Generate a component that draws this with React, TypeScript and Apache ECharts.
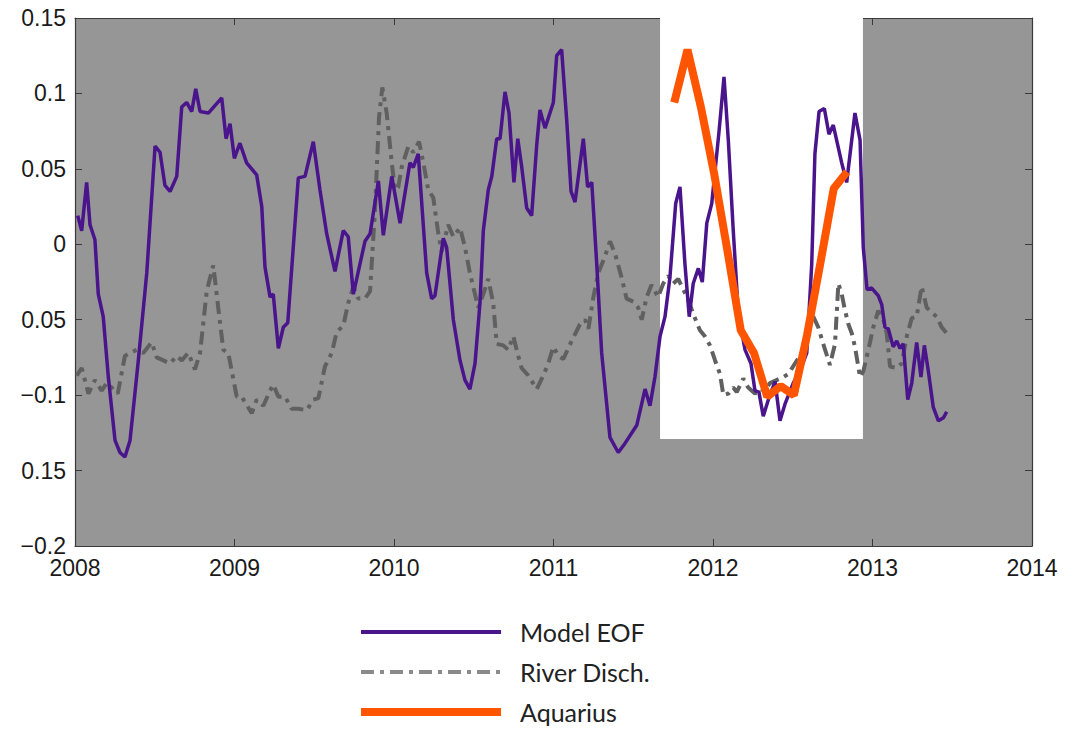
import React, { useEffect, useRef } from "react";
import * as echarts from "echarts";

// Model EOF: [decimal year, value]
const modelEOF: [number, number][] = [
  [2008.017, 0.019], [2008.042, 0.009], [2008.073, 0.041], [2008.094, 0.013], [2008.125, 0.003],
  [2008.146, -0.033], [2008.177, -0.048], [2008.209, -0.088], [2008.251, -0.13], [2008.282, -0.138],
  [2008.313, -0.141], [2008.345, -0.13], [2008.397, -0.077], [2008.45, -0.019], [2008.502, 0.065],
  [2008.533, 0.061], [2008.564, 0.039], [2008.596, 0.035], [2008.638, 0.045], [2008.669, 0.091],
  [2008.7, 0.094], [2008.732, 0.088], [2008.757, 0.103], [2008.784, 0.088], [2008.836, 0.087],
  [2008.92, 0.097], [2008.947, 0.07], [2008.972, 0.08], [2008.999, 0.057], [2009.034, 0.067],
  [2009.076, 0.054], [2009.139, 0.046], [2009.171, 0.025], [2009.191, -0.015], [2009.223, -0.035],
  [2009.243, -0.033], [2009.275, -0.069], [2009.306, -0.055], [2009.334, -0.052], [2009.4, 0.044],
  [2009.442, 0.045], [2009.494, 0.068], [2009.536, 0.036], [2009.578, 0.007], [2009.63, -0.018],
  [2009.682, 0.009], [2009.713, 0.005], [2009.745, -0.033], [2009.818, 0.002], [2009.85, 0.007],
  [2009.902, 0.042], [2009.933, 0.006], [2009.986, 0.045], [2010.038, 0.014], [2010.1, 0.054],
  [2010.121, 0.051], [2010.152, 0.06], [2010.205, -0.019], [2010.236, -0.036], [2010.257, -0.034],
  [2010.309, 0.004], [2010.33, -0.002], [2010.372, -0.05], [2010.414, -0.077], [2010.445, -0.09],
  [2010.476, -0.096], [2010.508, -0.079], [2010.539, -0.039], [2010.56, 0.009], [2010.591, 0.036],
  [2010.613, 0.045], [2010.644, 0.07], [2010.665, 0.07], [2010.696, 0.101], [2010.721, 0.087],
  [2010.752, 0.041], [2010.776, 0.07], [2010.801, 0.051], [2010.832, 0.024], [2010.863, 0.019],
  [2010.895, 0.066], [2010.915, 0.089], [2010.947, 0.077], [2010.999, 0.094], [2011.02, 0.125],
  [2011.051, 0.129], [2011.083, 0.082], [2011.11, 0.035], [2011.135, 0.028], [2011.187, 0.07],
  [2011.214, 0.038], [2011.24, 0.041], [2011.271, -0.013], [2011.302, -0.072], [2011.354, -0.128],
  [2011.406, -0.138], [2011.448, -0.132], [2011.522, -0.12], [2011.574, -0.096], [2011.605, -0.107],
  [2011.636, -0.088], [2011.668, -0.061], [2011.699, -0.048], [2011.73, -0.022], [2011.766, 0.027],
  [2011.793, 0.038], [2011.824, -0.013], [2011.851, -0.048], [2011.876, -0.026], [2011.908, -0.016],
  [2011.933, -0.025], [2011.961, 0.014], [2011.992, 0.027], [2012.038, 0.075], [2012.069, 0.111],
  [2012.096, 0.069], [2012.127, 0.009], [2012.159, -0.046], [2012.201, -0.07], [2012.238, -0.079],
  [2012.263, -0.097], [2012.288, -0.098], [2012.315, -0.114], [2012.347, -0.103], [2012.389, -0.091],
  [2012.42, -0.117], [2012.451, -0.106], [2012.503, -0.092], [2012.545, -0.084], [2012.588, -0.072],
  [2012.619, -0.013], [2012.639, 0.06], [2012.665, 0.088], [2012.698, 0.09], [2012.727, 0.073],
  [2012.754, 0.079], [2012.807, 0.054], [2012.838, 0.041], [2012.89, 0.087], [2012.922, 0.069],
  [2012.942, -0.002], [2012.966, -0.03], [2012.995, -0.029], [2013.036, -0.034], [2013.058, -0.04],
  [2013.078, -0.055], [2013.099, -0.056], [2013.13, -0.068], [2013.152, -0.064], [2013.172, -0.069],
  [2013.193, -0.066], [2013.221, -0.103], [2013.246, -0.092], [2013.277, -0.065], [2013.304, -0.088],
  [2013.325, -0.067], [2013.35, -0.084], [2013.381, -0.108], [2013.413, -0.117], [2013.445, -0.115],
  [2013.465, -0.111],
];

// River discharge: [decimal year, value]
const riverDisch: [number, number][] = [
  [2008.011, -0.087], [2008.042, -0.082], [2008.084, -0.099], [2008.125, -0.09], [2008.167, -0.097],
  [2008.199, -0.092], [2008.23, -0.095], [2008.268, -0.099], [2008.313, -0.074], [2008.345, -0.072],
  [2008.387, -0.07], [2008.428, -0.072], [2008.481, -0.065], [2008.512, -0.075], [2008.554, -0.077],
  [2008.596, -0.079], [2008.638, -0.074], [2008.669, -0.077], [2008.71, -0.072], [2008.752, -0.083],
  [2008.784, -0.072], [2008.826, -0.031], [2008.867, -0.014], [2008.898, -0.042], [2008.93, -0.07],
  [2008.961, -0.072], [2009.014, -0.101], [2009.045, -0.101], [2009.108, -0.112], [2009.139, -0.103],
  [2009.181, -0.107], [2009.223, -0.097], [2009.243, -0.093], [2009.275, -0.101], [2009.317, -0.101],
  [2009.358, -0.109], [2009.4, -0.109], [2009.453, -0.11], [2009.494, -0.103], [2009.526, -0.102],
  [2009.567, -0.081], [2009.61, -0.072], [2009.641, -0.058], [2009.682, -0.054], [2009.713, -0.039],
  [2009.745, -0.028], [2009.776, -0.036], [2009.818, -0.036], [2009.85, -0.031], [2009.881, 0.023],
  [2009.906, 0.084], [2009.927, 0.104], [2009.954, 0.087], [2009.986, 0.054], [2010.006, 0.036],
  [2010.027, 0.038], [2010.048, 0.051], [2010.09, 0.065], [2010.121, 0.061], [2010.157, 0.068],
  [2010.184, 0.054], [2010.215, 0.036], [2010.246, 0.031], [2010.278, 0.007], [2010.299, -0.005],
  [2010.34, 0.013], [2010.372, 0.005], [2010.414, 0.011], [2010.445, -0.002], [2010.476, -0.019],
  [2010.528, -0.042], [2010.56, -0.033], [2010.591, -0.023], [2010.622, -0.039], [2010.644, -0.066],
  [2010.685, -0.067], [2010.716, -0.07], [2010.748, -0.061], [2010.779, -0.074], [2010.8, -0.082],
  [2010.842, -0.087], [2010.895, -0.096], [2010.936, -0.087], [2010.967, -0.079], [2010.999, -0.068],
  [2011.03, -0.074], [2011.062, -0.076], [2011.114, -0.064], [2011.166, -0.053], [2011.198, -0.05],
  [2011.219, -0.056], [2011.25, -0.035], [2011.281, -0.019], [2011.323, -0.008], [2011.354, 0.002],
  [2011.385, -0.006], [2011.427, -0.022], [2011.458, -0.036], [2011.5, -0.038], [2011.531, -0.042],
  [2011.553, -0.05], [2011.584, -0.035], [2011.614, -0.027], [2011.656, -0.035], [2011.688, -0.026],
  [2011.72, -0.021], [2011.751, -0.026], [2011.782, -0.023], [2011.814, -0.03], [2011.845, -0.037],
  [2011.876, -0.046], [2011.918, -0.057], [2011.949, -0.061], [2011.981, -0.067], [2012.013, -0.077],
  [2012.044, -0.086], [2012.065, -0.1], [2012.096, -0.099], [2012.127, -0.095], [2012.149, -0.098],
  [2012.19, -0.089], [2012.221, -0.095], [2012.263, -0.099], [2012.295, -0.096], [2012.326, -0.097],
  [2012.357, -0.092], [2012.399, -0.09], [2012.441, -0.088], [2012.472, -0.086], [2012.514, -0.079],
  [2012.556, -0.072], [2012.597, -0.057], [2012.629, -0.048], [2012.66, -0.055], [2012.691, -0.066],
  [2012.733, -0.08], [2012.765, -0.066], [2012.786, -0.026], [2012.807, -0.033], [2012.828, -0.044],
  [2012.849, -0.053], [2012.87, -0.059], [2012.89, -0.068], [2012.922, -0.088], [2012.943, -0.084],
  [2012.974, -0.07], [2013.005, -0.055], [2013.036, -0.044], [2013.068, -0.05], [2013.089, -0.059],
  [2013.11, -0.081], [2013.152, -0.082], [2013.183, -0.079], [2013.215, -0.061], [2013.246, -0.049],
  [2013.277, -0.048], [2013.308, -0.028], [2013.34, -0.042], [2013.371, -0.045], [2013.402, -0.048],
  [2013.434, -0.055], [2013.465, -0.059],
];

// Aquarius monthly: [decimal year, value]
const aquarius: [number, number][] = [
  [2011.757, 0.094], [2011.84, 0.129], [2011.924, 0.091], [2012.007, 0.047], [2012.09, -0.004],
  [2012.174, -0.057], [2012.257, -0.072], [2012.34, -0.101], [2012.424, -0.094], [2012.507, -0.1],
  [2012.59, -0.06], [2012.674, -0.012], [2012.757, 0.037], [2012.84, 0.048],
];

const xTickLabels = ["2008", "2009", "2010", "2011", "2012", "2013", "2014"];
const yTickLabels = ["\u22120.2", "0.15", "\u22120.1", "0.05", "0", "0.05", "0.1", "0.15"];

// highlighted (white) period
const highlightStart: [number, number] = [2011.668, -0.129];
const highlightEnd: [number, number] = [2012.94, 0.15];

const PURPLE = "#4a148c";
const RIVER = "#606060";
const ORANGE = "#ff5500";
const RIVER_DASH = [13, 6, 4, 6];

export default function App() {
  const ref = useRef<HTMLDivElement>(null);
  useEffect(() => {
    if (!ref.current) return;
    const chart = echarts.init(ref.current, undefined, { renderer: "svg" });
    const axisFont = "'Liberation Sans', Arial, sans-serif";
    const frame = { show: true, onZero: false, lineStyle: { color: "#3a3a3a", width: 1.2 } };
    const tick = { show: true, inside: true, length: 7, lineStyle: { color: "#3a3a3a", width: 1 } };
    chart.setOption({
      animation: false,
      backgroundColor: "#ffffff",
      grid: {
        left: 75,
        top: 18,
        right: 49,
        bottom: 185,
        show: true,
        backgroundColor: "#969696",
        borderWidth: 0,
      },
      legend: {
        orient: "vertical",
        left: 357,
        top: 618,
        padding: 0,
        height: 120,
        itemWidth: 140,
        itemHeight: 14,
        itemGap: 12,
        data: [
          { name: "Model EOF", itemStyle: { opacity: 0 }, lineStyle: { width: 4, color: PURPLE } },
          { name: "River Disch.", itemStyle: { opacity: 0 }, lineStyle: { width: 4, color: "#8a8a8a", type: RIVER_DASH } },
          { name: "Aquarius", itemStyle: { opacity: 0 }, lineStyle: { width: 8, color: ORANGE } },
        ],
        textStyle: {
          fontFamily: "Lato, 'Open Sans', sans-serif",
          fontSize: 25,
          color: "#222",
          lineHeight: 28,
          padding: [0, 0, 0, 14],
        },
        selectedMode: false,
      },
      xAxis: [
        {
          type: "value",
          min: 2008,
          max: 2014,
          interval: 1,
          position: "bottom",
          axisLine: frame,
          axisTick: tick,
          splitLine: { show: false },
          axisLabel: {
            margin: 10,
            fontSize: 23,
            fontFamily: axisFont,
            color: "#1a1a1a",
            formatter: (v: number) => xTickLabels[Math.round(v - 2008)] ?? "",
          },
        },
        {
          type: "value",
          min: 2008,
          max: 2014,
          interval: 1,
          position: "top",
          axisLine: frame,
          axisTick: tick,
          splitLine: { show: false },
          axisLabel: { show: false },
        },
      ],
      yAxis: [
        {
          type: "value",
          min: -0.2,
          max: 0.15,
          interval: 0.05,
          position: "left",
          axisLine: frame,
          axisTick: tick,
          splitLine: { show: false },
          axisLabel: {
            margin: 9,
            fontSize: 23,
            fontFamily: axisFont,
            color: "#1a1a1a",
            formatter: (v: number) => yTickLabels[Math.round((v + 0.2) / 0.05)] ?? "",
          },
        },
        {
          type: "value",
          min: -0.2,
          max: 0.15,
          interval: 0.05,
          position: "right",
          axisLine: frame,
          axisTick: tick,
          splitLine: { show: false },
          axisLabel: { show: false },
        },
      ],
      series: [
        {
          name: "River Disch.",
          type: "line",
          data: riverDisch,
          symbol: "none",
          z: 3,
          lineStyle: { color: RIVER, width: 4, type: RIVER_DASH },
          itemStyle: { color: RIVER },
          markArea: {
            silent: true,
            itemStyle: { color: "#ffffff", opacity: 1 },
            data: [[{ coord: highlightStart }, { coord: highlightEnd }]],
          },
        },
        {
          name: "Model EOF",
          type: "line",
          data: modelEOF,
          symbol: "none",
          z: 4,
          lineStyle: { color: PURPLE, width: 3.5 },
          itemStyle: { color: PURPLE },
        },
        {
          name: "Aquarius",
          type: "line",
          data: aquarius,
          symbol: "none",
          z: 5,
          lineStyle: { color: ORANGE, width: 8 },
          itemStyle: { color: ORANGE },
        },
      ],
    });
    return () => chart.dispose();
  }, []);
  return (
    <div
      ref={ref}
      style={{ position: "fixed", left: 0, top: 0, width: 1081, height: 731 }}
    />
  );
}
